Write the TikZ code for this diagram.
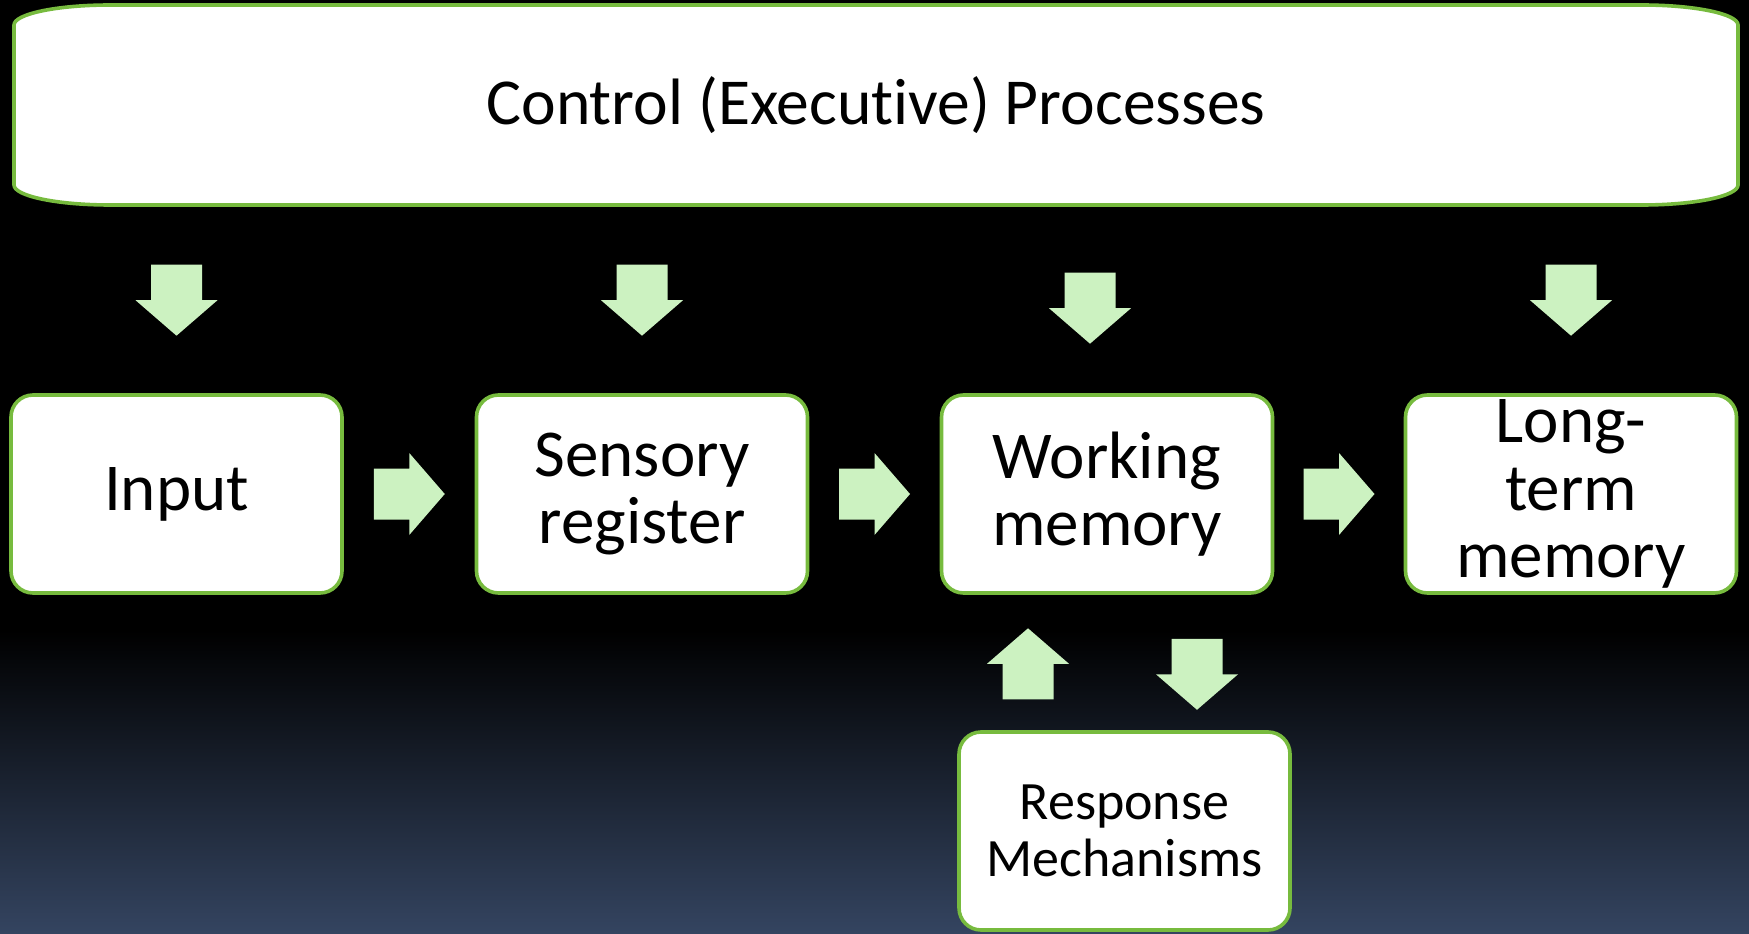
\documentclass[tikz,border=0pt]{standalone}
\usepackage{fontspec}
\setmainfont{Carlito}[Ligatures=NoCommon]
\usepackage{xcolor}
\usepackage{tikz}
\usetikzlibrary{calc}
\definecolor{framegreen}{RGB}{119,187,62}
\definecolor{arrowgreen}{RGB}{204,242,193}
\definecolor{nightblue}{RGB}{52,68,96}

\tikzset{
  stage/.style={draw=framegreen, line width=1.8pt, fill=white, rounded corners=11pt,
    minimum width=165.5pt, minimum height=99pt, inner sep=0pt, align=center,
    font=\fontsize{33.5pt}{33.8pt}\selectfont},
  flow/.pic={
    \fill[arrowgreen] (-12.75pt,17.75pt) -- (12.75pt,17.75pt) -- (12.75pt,0pt) -- (20.5pt,0pt)
      -- (0pt,-17.75pt) -- (-20.5pt,0pt) -- (-12.75pt,0pt) -- cycle;
  }
}

\begin{document}
\begin{tikzpicture}[x=0.5pt, y=0.5pt]
  \useasboundingbox (0,0) rectangle (1749,933);
  \fill[black] (0,0) rectangle (1749,933);
  \shade[top color=black, bottom color=nightblue] (0,0) rectangle (1749,303);

  \draw[draw=framegreen, line width=1.8pt, fill=white]
    (110,928) -- (1642,928) arc[start angle=90, end angle=0, x radius=48pt, y radius=10pt]
    -- (1738,748) arc[start angle=0, end angle=-90, x radius=48pt, y radius=10pt]
    -- (110,728) arc[start angle=270, end angle=180, x radius=48pt, y radius=10pt]
    -- (14,908) arc[start angle=180, end angle=90, x radius=48pt, y radius=10pt] -- cycle;
  % kern keeps t and i apart
  \node[font=\fontsize{32.8pt}{38pt}\selectfont] (ctrl) at (876,828) {Control (Execut\kern0pt ive) Processes};

  \node[stage] (input) at (176.5,439) {Input};
  \node[stage] (sensory) at (642,439) {Sensory\\register};
  \node[stage] (working) at (1107,439) {Working\\memory};
  \node[stage] (longterm) at (1571,439) {Long-\\term\\memory};
  \node[stage, font=\fontsize{27pt}{28.5pt}\selectfont] (response) at (1124.5,102) {Response\\Mechanisms};

  \pic at ([yshift=46.5pt]input.north) {flow};
  \pic at ([yshift=46.5pt]sensory.north) {flow};
  \pic at ([xshift=-8.5pt, yshift=42.5pt]working.north) {flow};
  \pic at ([yshift=46.5pt]longterm.north) {flow};

  \pic[rotate=90] at ($(input.east)!.5!(sensory.west)$) {flow};
  \pic[rotate=90] at ($(sensory.east)!.5!(working.west)$) {flow};
  \pic[rotate=90] at ($(working.east)!.5!(longterm.west)$) {flow};

  \pic[rotate=180] at ([xshift=-39.5pt, yshift=-34.5pt]working.south) {flow};
  \pic at ([xshift=45pt, yshift=-39.75pt]working.south) {flow};
\end{tikzpicture}
\end{document}
